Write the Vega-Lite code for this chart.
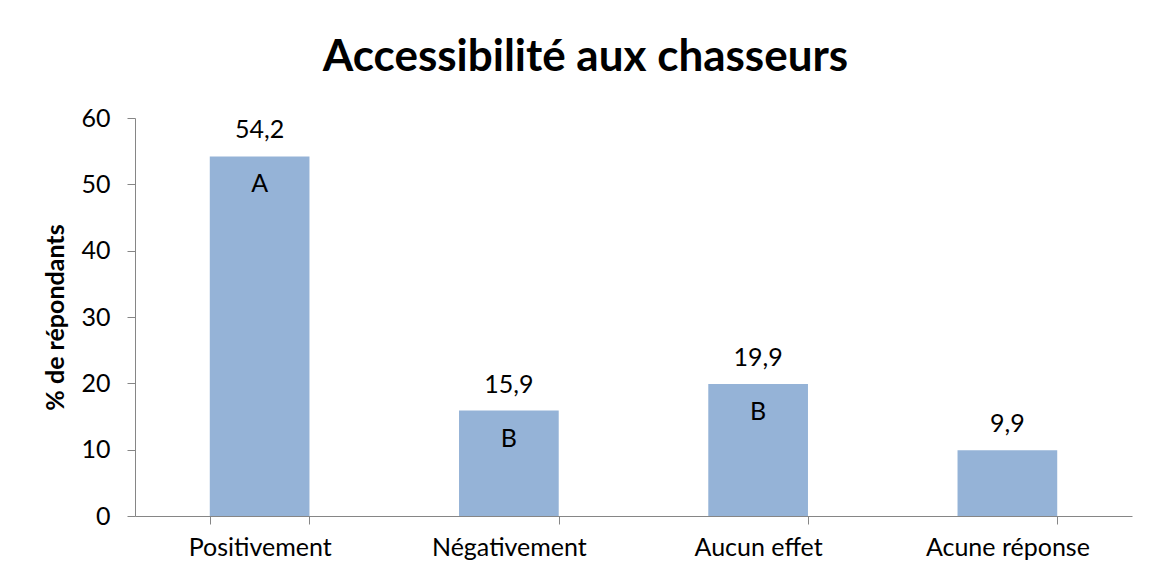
{
  "$schema": "https://vega.github.io/schema/vega-lite/v6.json",
  "autosize": "none",
  "width": 997,
  "height": 398,
  "padding": {"left": 135, "top": 118, "right": 17, "bottom": 61},
  "background": "white",
  "title": {
    "text": "Accessibilité aux chasseurs",
    "font": "Lato",
    "fontSize": 44,
    "fontWeight": "bold",
    "color": "black",
    "anchor": "middle",
    "dx": -48,
    "offset": 26
  },
  "data": {
    "values": [
      {"reponse": "Positivement", "pct": 54.2, "label": "54,2", "lettre": "A"},
      {"reponse": "Négativement", "pct": 15.9, "label": "15,9", "lettre": "B"},
      {"reponse": "Aucun effet", "pct": 19.9, "label": "19,9", "lettre": "B"},
      {"reponse": "Acune réponse", "pct": 9.9, "label": "9,9", "lettre": ""}
    ]
  },
  "encoding": {
    "x": {
      "field": "reponse",
      "type": "nominal",
      "sort": null,
      "scale": {"paddingInner": 0.6, "paddingOuter": 0.3},
      "axis": {
        "title": null,
        "labelAngle": 0,
        "labelFont": "Lato",
        "labelFontSize": 25,
        "labelColor": "black",
        "labelPadding": 11,
        "domainColor": "#868686",
        "tickColor": "#868686",
        "tickSize": 8,
        "tickBand": "extent"
      }
    },
    "y": {
      "field": "pct",
      "type": "quantitative",
      "scale": {"domain": [0, 60], "nice": false},
      "axis": {
        "title": "% de répondants",
        "titleFont": "Lato",
        "titleFontSize": 25,
        "titleFontWeight": "bold",
        "titleColor": "black",
        "titlePadding": 12,
        "values": [0, 10, 20, 30, 40, 50, 60],
        "grid": false,
        "labelFont": "Lato",
        "labelFontSize": 25,
        "labelColor": "black",
        "labelPadding": 17,
        "domainColor": "#868686",
        "tickColor": "#868686",
        "tickSize": 8
      }
    }
  },
  "layer": [
    {"mark": {"type": "bar", "color": "#95b3d7"}},
    {
      "mark": {"type": "text", "font": "Lato", "fontSize": 25, "color": "black", "baseline": "bottom", "dy": -13},
      "encoding": {"text": {"field": "label"}}
    },
    {
      "mark": {"type": "text", "font": "Lato", "fontSize": 25, "color": "black", "baseline": "middle", "dy": 28},
      "encoding": {"text": {"field": "lettre"}}
    }
  ],
  "config": {"view": {"stroke": null}, "font": "Lato"}
}
